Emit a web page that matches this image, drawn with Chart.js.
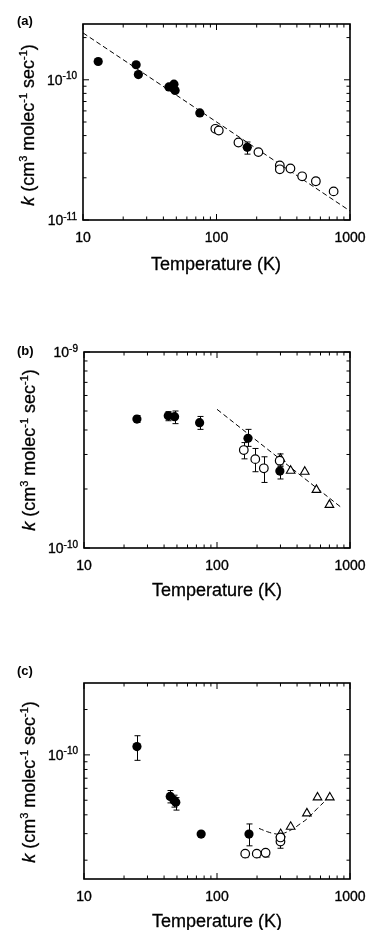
<!DOCTYPE html>
<html>
<head>
<meta charset="utf-8">
<script src="https://cdn.jsdelivr.net/npm/chart.js@4.4.1/dist/chart.umd.min.js"></script>
<style>
  html,body{margin:0;padding:0;background:#fff;}
  body{width:367px;height:930px;position:relative;overflow:hidden;
       font-family:"Liberation Sans",Arial,Helvetica,sans-serif;color:#000;}
  canvas{position:absolute;left:0;}
  .panel{position:absolute;left:17px;font-weight:bold;font-size:13px;line-height:1;}
  .ytitle{position:absolute;white-space:nowrap;font-size:18px;line-height:1;
          -webkit-text-stroke:0.3px #000;
          transform:translate(-50%,-50%) rotate(-90deg);}
  .ytitle sup{font-size:11px;vertical-align:baseline;position:relative;top:-7px;}
  .xtitle{position:absolute;white-space:nowrap;font-size:18px;line-height:1;
          -webkit-text-stroke:0.3px #000;transform:translateX(-50%);}
</style>
</head>
<body>
<canvas id="chartA" width="367" height="310" style="top:0"></canvas>
<canvas id="chartB" width="367" height="310" style="top:310px"></canvas>
<canvas id="chartC" width="367" height="310" style="top:620px"></canvas>

<div class="panel" style="top:14px">(a)</div>
<div class="panel" style="top:344px">(b)</div>
<div class="panel" style="top:664px">(c)</div>

<div class="ytitle" style="left:28px;top:125px"><i>k</i> (cm<sup>3</sup> molec<sup>-1</sup> sec<sup>-1</sup>)</div>
<div class="ytitle" style="left:29px;top:450px"><i>k</i> (cm<sup>3</sup> molec<sup>-1</sup> sec<sup>-1</sup>)</div>
<div class="ytitle" style="left:29px;top:782px"><i>k</i> (cm<sup>3</sup> molec<sup>-1</sup> sec<sup>-1</sup>)</div>

<div class="xtitle" style="left:216px;top:255px">Temperature (K)</div>
<div class="xtitle" style="left:217px;top:581px">Temperature (K)</div>
<div class="xtitle" style="left:217px;top:912px">Temperature (K)</div>

<script>
// ---- Achsen / Ticks ----
const xMajor = [10, 100, 1000];
const xMinor = [20,30,40,50,60,70,80,90,200,300,400,500,600,700,800,900];
const xLabels = ['10','100','1000'];

// ---- Panel (a) ----
const aYMajor = [1e-11, 1e-10];
const aYMinor = [2e-11,3e-11,4e-11,5e-11,6e-11,7e-11,8e-11,9e-11,2e-10];
const aYExp   = ['-11','-10'];
const aFilledT = [13, 25, 26, 44, 48, 49, 75, 170];
const aFilledK = [1.35e-10, 1.28e-10, 1.09e-10, 8.9e-11, 9.3e-11, 8.4e-11, 5.8e-11, 3.3e-11];
const aFilledLo = [null, null, null, null, null, null, null, 2.95e-11];
const aFilledHi = [null, null, null, null, null, null, null, 3.6e-11];
const aOpenT = [98, 104, 146, 206, 298, 298, 358, 438, 555, 754];
const aOpenK = [4.47e-11, 4.35e-11, 3.57e-11, 3.05e-11, 2.45e-11, 2.3e-11, 2.33e-11, 2.05e-11, 1.89e-11, 1.6e-11];
const aOpenLo = [null, null, null, null, null, null, null, null, 1.8e-11, null];
const aOpenHi = [null, null, null, null, null, null, null, null, 1.99e-11, null];
const aFitT = [10, 1000];
const aFitK = [2.16e-10, 1.16e-11];

// ---- Panel (b) ----
const bYMajor = [1e-10, 1e-9];
const bYMinor = [2e-10,3e-10,4e-10,5e-10,6e-10,7e-10,8e-10,9e-10];
const bYExp   = ['-10','-9'];
const bFilledT  = [25, 43, 48, 74, 171, 297];
const bFilledK  = [4.55e-10, 4.73e-10, 4.68e-10, 4.36e-10, 3.63e-10, 2.47e-10];
const bFilledLo = [4.37e-10, 4.46e-10, 4.31e-10, 4.03e-10, 3.3e-10, 2.25e-10];
const bFilledHi = [4.74e-10, 4.96e-10, 5.0e-10, 4.69e-10, 4.03e-10, 2.65e-10];
const bOpenT  = [159, 194, 225, 296];
const bOpenK  = [3.16e-10, 2.84e-10, 2.55e-10, 2.79e-10];
const bOpenLo = [2.85e-10, 2.45e-10, 2.16e-10, 2.6e-10];
const bOpenHi = [3.45e-10, 3.22e-10, 2.92e-10, 3.02e-10];
const bTriT = [300, 358, 457, 559, 700];
const bTriK = [2.85e-10, 2.48e-10, 2.45e-10, 1.98e-10, 1.66e-10];
const bFitT = [100, 850];
const bFitK = [5.1e-10, 1.62e-10];

// ---- Panel (c) ----
const cYMajor = [1e-10];
const cYMinor = [2e-11,3e-11,4e-11,5e-11,6e-11,7e-11,8e-11,9e-11,2e-10];
const cYExp   = ['-10'];
const cFilledT  = [25, 44.5, 47.5, 49, 76, 174];
const cFilledK  = [1.135e-10, 5.3e-11, 5.0e-11, 4.85e-11, 2.98e-11, 2.98e-11];
const cFilledLo = [9.2e-11, 4.8e-11, 4.5e-11, 4.3e-11, null, 2.49e-11];
const cFilledHi = [1.34e-10, 5.8e-11, 5.4e-11, 5.2e-11, null, 3.48e-11];
const cOpenT  = [163, 199, 232, 300, 300];
const cOpenK  = [2.21e-11, 2.21e-11, 2.24e-11, 2.66e-11, 2.83e-11];
const cOpenLo = [2.08e-11, 2.08e-11, 2.1e-11, 2.4e-11, null];
const cOpenHi = [null, null, null, null, null];
const cTriT = [301, 358, 474, 570, 705];
const cTriK = [2.98e-11, 3.33e-11, 4.09e-11, 5.22e-11, 5.22e-11];
const cFitT = [207, 239, 270, 301, 359, 427, 480, 570, 679, 710];
const cFitK = [3.25e-11, 3.09e-11, 3.0e-11, 2.98e-11, 3.17e-11, 3.51e-11, 3.79e-11, 4.42e-11, 5.14e-11, 5.41e-11];

const FONT = '"Liberation Sans", Arial, Helvetica, sans-serif';
const pts = (T,K) => T.map((t,i)=>({x:t, y:K[i]}));

// Fehlerbalken (unter den Markern)
const errorBars = {
  id:'errorBars',
  beforeDatasetsDraw(chart){
    const {ctx, scales:{y}} = chart;
    ctx.save();
    ctx.strokeStyle = '#000';
    ctx.lineWidth = 1;
    chart.data.datasets.forEach((ds, di)=>{
      if(!ds.errLo) return;
      const meta = chart.getDatasetMeta(di);
      meta.data.forEach((el, j)=>{
        const lo = ds.errLo[j], hi = ds.errHi ? ds.errHi[j] : null;
        if(lo==null && hi==null) return;
        const px = Math.round(el.x) + 0.5;
        const y1 = y.getPixelForValue(hi!=null ? hi : ds.data[j].y);
        const y2 = y.getPixelForValue(lo!=null ? lo : ds.data[j].y);
        ctx.beginPath();
        ctx.moveTo(px, y1); ctx.lineTo(px, y2);
        if(hi!=null){ ctx.moveTo(px-3, y1); ctx.lineTo(px+3, y1); }
        if(lo!=null){ ctx.moveTo(px-3, y2); ctx.lineTo(px+3, y2); }
        ctx.stroke();
      });
    });
    ctx.restore();
  }
};

// Rahmen mit Ticks nach innen auf allen vier Seiten + Beschriftung
const frame = {
  id:'frame',
  afterDraw(chart, _args, o){
    const {ctx, chartArea:a, scales:{x, y}} = chart;
    ctx.save();
    ctx.strokeStyle = '#000';
    ctx.lineWidth = 1.6;
    ctx.strokeRect(a.left, a.top, a.right-a.left, a.bottom-a.top);
    ctx.lineWidth = 1;
    ctx.beginPath();
    const xt = (v,len)=>{
      const p = x.getPixelForValue(v);
      ctx.moveTo(p, a.bottom); ctx.lineTo(p, a.bottom-len);
      ctx.moveTo(p, a.top);    ctx.lineTo(p, a.top+len);
    };
    const yt = (v,len)=>{
      const p = y.getPixelForValue(v);
      ctx.moveTo(a.left, p);  ctx.lineTo(a.left+len, p);
      ctx.moveTo(a.right, p); ctx.lineTo(a.right-len, p);
    };
    xMajor.forEach(v=>xt(v,6));
    xMinor.forEach(v=>xt(v,3.5));
    o.yMajor.forEach(v=>yt(v,6));
    o.yMinor.forEach(v=>yt(v,3.5));
    ctx.stroke();

    // etwas kräftigere Schrift wie im Druck
    const txt = (s, px, py)=>{ ctx.fillText(s, px, py); ctx.strokeText(s, px, py); };
    ctx.fillStyle = '#000';
    ctx.lineWidth = 0.35;
    ctx.font = '14px ' + FONT;
    ctx.textAlign = 'center';
    ctx.textBaseline = 'alphabetic';
    xMajor.forEach((v,i)=> txt(xLabels[i], x.getPixelForValue(v), a.bottom+22));

    ctx.textAlign = 'left';
    o.yMajor.forEach((v,i)=>{
      const p = y.getPixelForValue(v);
      ctx.font = '10px ' + FONT;
      const w2 = ctx.measureText(o.yExp[i]).width;
      ctx.font = '14px ' + FONT;
      const w1 = ctx.measureText('10').width;
      const right = a.left - 6;
      txt('10', right-w2-w1, p+5);
      ctx.font = '10px ' + FONT;
      txt(o.yExp[i], right-w2, p-0.5);
    });
    ctx.restore();
  }
};

function makeChart(id, pad, yMin, yMax, ticks, sets){
  const datasets = [];
  if(sets.filled) datasets.push({
    label:'filled', data:pts(sets.filled.T, sets.filled.K),
    errLo:sets.filled.lo, errHi:sets.filled.hi,
    pointStyle:'circle', pointRadius:4.6, pointBackgroundColor:'#000',
    pointBorderColor:'#000', pointBorderWidth:0, showLine:false
  });
  if(sets.open) datasets.push({
    label:'open', data:pts(sets.open.T, sets.open.K),
    errLo:sets.open.lo, errHi:sets.open.hi,
    pointStyle:'circle', pointRadius:4.3, pointBackgroundColor:'#fff',
    pointBorderColor:'#000', pointBorderWidth:1.2, showLine:false
  });
  if(sets.tri) datasets.push({
    label:'tri', data:pts(sets.tri.T, sets.tri.K),
    pointStyle:'triangle', pointRadius:5, pointBackgroundColor:'#fff',
    pointBorderColor:'#000', pointBorderWidth:1.1, showLine:false
  });
  datasets.push({
    type:'line', label:'fit', data:pts(sets.fit.T, sets.fit.K),
    borderColor:'#000', borderWidth:1, borderDash:[5,3],
    pointRadius:0, tension:0.4, fill:false
  });

  return new Chart(document.getElementById(id), {
    type:'scatter',
    data:{datasets},
    options:{
      responsive:false,
      animation:false,
      devicePixelRatio:1,
      events:[],
      layout:{padding:pad},
      plugins:{
        legend:{display:false},
        tooltip:{enabled:false},
        frame:ticks
      },
      scales:{
        x:{type:'logarithmic', min:10, max:1000, display:false},
        y:{type:'logarithmic', min:yMin, max:yMax, display:false}
      }
    },
    plugins:[errorBars, frame]
  });
}

makeChart('chartA', {left:83, right:17, top:24, bottom:90}, 1e-11, 2.5e-10,
  {yMajor:aYMajor, yMinor:aYMinor, yExp:aYExp},
  {
    filled:{T:aFilledT, K:aFilledK, lo:aFilledLo, hi:aFilledHi},
    open:{T:aOpenT, K:aOpenK, lo:aOpenLo, hi:aOpenHi},
    fit:{T:aFitT, K:aFitK}
  });

makeChart('chartB', {left:84, right:17, top:42, bottom:72}, 1e-10, 1e-9,
  {yMajor:bYMajor, yMinor:bYMinor, yExp:bYExp},
  {
    filled:{T:bFilledT, K:bFilledK, lo:bFilledLo, hi:bFilledHi},
    open:{T:bOpenT, K:bOpenK, lo:bOpenLo, hi:bOpenHi},
    tri:{T:bTriT, K:bTriK},
    fit:{T:bFitT, K:bFitK}
  });

makeChart('chartC', {left:84, right:17, top:63, bottom:51}, 1.5e-11, 3e-10,
  {yMajor:cYMajor, yMinor:cYMinor, yExp:cYExp},
  {
    filled:{T:cFilledT, K:cFilledK, lo:cFilledLo, hi:cFilledHi},
    open:{T:cOpenT, K:cOpenK, lo:cOpenLo, hi:cOpenHi},
    tri:{T:cTriT, K:cTriK},
    fit:{T:cFitT, K:cFitK}
  });
</script>
</body>
</html>
